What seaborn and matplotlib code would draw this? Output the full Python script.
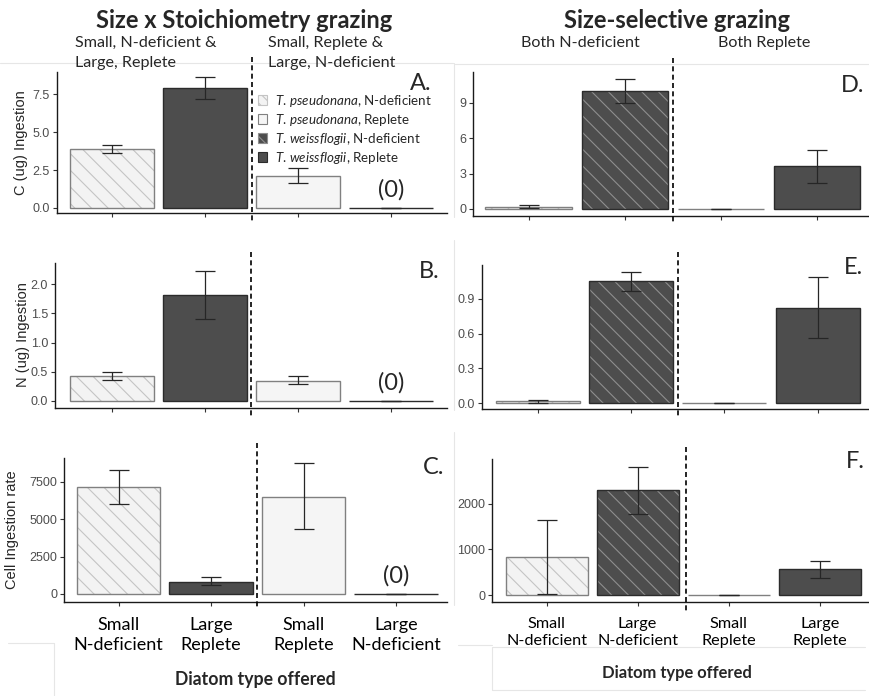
import numpy as np
import pandas as pd
import matplotlib
matplotlib.use("Agg")
import matplotlib.pyplot as plt
import matplotlib.transforms as mtransforms
from matplotlib.patches import Patch, Rectangle
from matplotlib.lines import Line2D
import seaborn as sns

sns.set_theme(style="ticks")
plt.rcParams['font.family'] = ['Liberation Sans', 'DejaVu Sans']
plt.rcParams['mathtext.fontset'] = 'custom'
plt.rcParams['mathtext.it'] = 'Lato:italic'
plt.rcParams['mathtext.rm'] = 'Lato'
plt.rcParams['hatch.linewidth'] = 0.8

# ---------------- data ----------------
left_cats = ["Small\nN-deficient", "Large\nReplete", "Small\nReplete", "Large\nN-deficient"]
right_cats = ["Small\nN-deficient", "Large\nN-deficient", "Small\nReplete", "Large\nReplete"]
left_types = ["pseu_N", "weis_R", "pseu_R", "weis_N"]
right_types = ["pseu_N", "weis_N", "pseu_R", "weis_R"]

carbon_left = [3.88, 7.9, 2.1, 0.0]
carbon_left_lo = [3.62, 7.2, 1.65, 0.0]
carbon_left_hi = [4.14, 8.6, 2.6, 0.0]

nitrogen_left = [0.43, 1.81, 0.35, 0.0]
nitrogen_left_lo = [0.36, 1.40, 0.29, 0.0]
nitrogen_left_hi = [0.49, 2.23, 0.42, 0.0]

cells_left = [7150, 825, 6520, 0]
cells_left_lo = [6030, 600, 4350, 0]
cells_left_hi = [8300, 1118, 8750, 0]

carbon_right = [0.15, 10.0, 0.0, 3.6]
carbon_right_lo = [0.05, 9.0, 0.0, 2.2]
carbon_right_hi = [0.3, 11.0, 0.0, 5.0]

nitrogen_right = [0.015, 1.05, 0.003, 0.82]
nitrogen_right_lo = [0.005, 0.97, 0.003, 0.56]
nitrogen_right_hi = [0.03, 1.13, 0.003, 1.09]

cells_right = [830, 2290, 0, 560]
cells_right_lo = [20, 1770, 0, 375]
cells_right_hi = [1640, 2800, 0, 750]

legend_labels = [r"$\mathit{T.\,pseudonana}$, N-deficient",
                 r"$\mathit{T.\,pseudonana}$, Replete",
                 r"$\mathit{T.\,weissflogii}$, N-deficient",
                 r"$\mathit{T.\,weissflogii}$, Replete"]
legend_types = ["pseu_N", "pseu_R", "weis_N", "weis_R"]

# ---------------- styles ----------------
STYLE = {
    "pseu_N": dict(fill="#f3f3f3", hatch="\\\\", hcol="#c4c4c4", edge="#808080"),
    "pseu_R": dict(fill="#f5f5f5", hatch=None, hcol=None, edge="#808080"),
    "weis_N": dict(fill="#4d4d4d", hatch="\\\\", hcol="#8e8e8e", edge="#2b2b2b"),
    "weis_R": dict(fill="#4d4d4d", hatch=None, hcol=None, edge="#2b2b2b"),
}

W, H = 870, 696
fig = plt.figure(figsize=(W / 100, H / 100), dpi=100)


def fx(x):
    return x / W


def fy(y):
    return 1 - y / H


def add_ax(l, t, r, b):
    return fig.add_axes([fx(l), fy(b), fx(r) - fx(l), (b - t) / H])


LATO = ['Lato', 'DejaVu Sans']


def panel(ax, cats, types, vals, lo, hi, ylim, yticks, yticklabels, xlim,
          xlab_size, zero_note):
    df = pd.DataFrame({"cat": cats, "val": vals})
    sns.barplot(data=df, x="cat", y="val", order=cats, errorbar=None,
                width=0.9, color="white", ax=ax)
    for p, t in zip(ax.patches, types):
        s = STYLE[t]
        p.set_facecolor(s["fill"])
        p.set_linewidth(0)
        if s["hatch"]:
            p.set_hatch(s["hatch"])
            p.set_edgecolor(s["hcol"])
        ax.add_patch(Rectangle((p.get_x(), p.get_y()), p.get_width(), p.get_height(),
                               fill=False, edgecolor=s["edge"], linewidth=1.0, zorder=3))
    v = np.array(vals, dtype=float)
    ax.errorbar(np.arange(len(v)), v,
                yerr=[v - np.array(lo, dtype=float), np.array(hi, dtype=float) - v],
                fmt="none", ecolor="#262626", elinewidth=0.9, capsize=7.5,
                capthick=0.9, zorder=4)
    ax.set_ylim(*ylim)
    ax.set_xlim(*xlim)
    ax.set_yticks(yticks)
    ax.set_yticklabels(yticklabels)
    ax.set_xlabel("")
    ax.set_ylabel("")
    sns.despine(ax=ax)
    for sp in ["left", "bottom"]:
        ax.spines[sp].set_linewidth(1.0)
        ax.spines[sp].set_color("#1a1a1a")
    ax.tick_params(axis="both", length=3, width=0.8, color="#333333",
                   labelsize=9, labelcolor="#4d4d4d", pad=2)
    ax.set_xticks(range(len(cats)))
    if xlab_size:
        ax.set_xticklabels(cats, fontsize=xlab_size, color="black", family=LATO,
                           linespacing=1.25)
        ax.tick_params(axis="x", pad=8)
    else:
        ax.set_xticklabels([""] * len(cats))
    if zero_note:
        ax.annotate("(0)", xy=(3, 0), xytext=(0, 5), textcoords="offset points",
                    ha="center", va="bottom", fontsize=17, family=LATO)
    ax.patch.set_alpha(0)


def dashed(ax, x, top, bottom):
    tr = mtransforms.blended_transform_factory(ax.transData, fig.transFigure)
    ax.add_line(Line2D([x, x], [fy(top), fy(bottom)], transform=tr, color="black",
                       linestyle=(0, (3, 2)), linewidth=1.2, clip_on=False, zorder=5))


# faint slide artifacts (behind everything)
art = dict(color="#e6e6e6", linewidth=0.8, zorder=-5)
segs = [([0, 453], [63, 63]), ([455, 870], [64, 64]), ([454, 454], [63, 217]),
        ([454, 454], [240, 410]), ([454, 454], [432, 605]),
        ([8, 54], [643, 643]), ([54, 54], [643, 696]),
        ([458, 492], [645, 645]), ([492, 865], [647, 647]),
        ([492, 492], [647, 690]), ([492, 865], [690, 690])]
for xs, ys in segs:
    fig.add_artist(Line2D([fx(x) for x in xs], [fy(y) for y in ys],
                          transform=fig.transFigure, **art))

# ---------------- panels ----------------
axA = add_ax(57, 72, 447, 213)
panel(axA, left_cats, left_types, carbon_left, carbon_left_lo, carbon_left_hi,
      (-0.33, 8.95), [0, 2.5, 5, 7.5], ["0.0", "2.5", "5.0", "7.5"], (-0.59, 3.6), None, True)
axB = add_ax(55, 263, 447, 408)
panel(axB, left_cats, left_types, nitrogen_left, nitrogen_left_lo, nitrogen_left_hi,
      (-0.12, 2.36), [0, 0.5, 1, 1.5, 2], ["0.0", "0.5", "1.0", "1.5", "2.0"], (-0.61, 3.6), None, True)
axC = add_ax(64, 458, 447, 602)
panel(axC, left_cats, left_types, cells_left, cells_left_lo, cells_left_hi,
      (-536, 9107), [0, 2500, 5000, 7500], ["0", "2500", "5000", "7500"], (-0.59, 3.55), 13, True)

axD = add_ax(473, 72, 868, 216)
panel(axD, right_cats, right_types, carbon_right, carbon_right_lo, carbon_right_hi,
      (-0.6, 11.6), [0, 3, 6, 9], ["0", "3", "6", "9"], (-0.58, 3.53), None, False)
axE = add_ax(482, 265, 868, 409)
panel(axE, right_cats, right_types, nitrogen_right, nitrogen_right_lo, nitrogen_right_hi,
      (-0.05, 1.19), [0, 0.3, 0.6, 0.9], ["0.0", "0.3", "0.6", "0.9"], (-0.6, 3.54), None, False)
axF = add_ax(492, 459, 868, 602)
panel(axF, right_cats, right_types, cells_right, cells_right_lo, cells_right_hi,
      (-153, 2976), [0, 1000, 2000], ["0", "1000", "2000"], (-0.6, 3.53), 11.7, False)

dashed(axA, 1.5, 57, 222)
dashed(axB, 1.5, 252, 417)
dashed(axC, 1.5, 443, 608)
dashed(axD, 1.5, 58, 223)
dashed(axE, 1.5, 252, 417)
dashed(axF, 1.53, 447, 613)

# y labels
fig.text(fx(21), fy(143), "C (ug) Ingestion", rotation=90, ha="center", va="center", fontsize=10.5)
fig.text(fx(23), fy(335), "N (ug) Ingestion", rotation=90, ha="center", va="center", fontsize=10.5)
fig.text(fx(12), fy(530), "Cell Ingestion rate", rotation=90, ha="center", va="center", fontsize=10.5)

# panel letters
for (x, y, s) in [(421, 84, "A."), (429, 272, "B."), (434, 467, "C."),
                  (853, 85, "D."), (854, 268, "E."), (855, 462, "F.")]:
    fig.text(fx(x), fy(y), s, ha="center", va="center", fontsize=17, family=LATO)

# titles and subtitles
fig.text(fx(244), fy(20), "Size x Stoichiometry grazing", ha="center", va="center",
         fontsize=17, fontweight="bold", family=LATO)
fig.text(fx(677), fy(20), "Size-selective grazing", ha="center", va="center",
         fontsize=17, fontweight="bold", family=LATO)
sub = dict(va="center", fontsize=11.6, family=LATO)
fig.text(fx(75), fy(43), "Small, N-deficient &", ha="left", **sub)
fig.text(fx(75), fy(63), "Large, Replete", ha="left", **sub)
fig.text(fx(268), fy(43), "Small, Replete &", ha="left", **sub)
fig.text(fx(268), fy(63), "Large, N-deficient", ha="left", **sub)
fig.text(fx(580), fy(43), "Both N-deficient", ha="center", **sub)
fig.text(fx(764), fy(43), "Both Replete", ha="center", **sub)

fig.text(fx(255), fy(680), "Diatom type offered", ha="center", va="center",
         fontsize=12.7, fontweight="bold", family=LATO)
fig.text(fx(677), fy(673), "Diatom type offered", ha="center", va="center",
         fontsize=11.9, fontweight="bold", family=LATO)

# legend in panel A
handles = []
for t in legend_types:
    s = STYLE[t]
    h = Patch(facecolor=s["fill"], edgecolor=s["hcol"] if s["hatch"] else s["edge"],
              hatch=("\\\\\\" if s["hatch"] else None), linewidth=0.8)
    handles.append(h)
leg = axA.legend(handles, legend_labels, loc="upper left",
                 bbox_to_anchor=(fx(258), fy(93)), bbox_transform=fig.transFigure,
                 frameon=False, fontsize=9.6, handlelength=0.7, handleheight=0.8,
                 handletextpad=0.6, labelspacing=0.22, borderpad=0, borderaxespad=0)
for txt in leg.get_texts():
    txt.set_family(LATO)

fig.savefig("out.png", dpi=100)
